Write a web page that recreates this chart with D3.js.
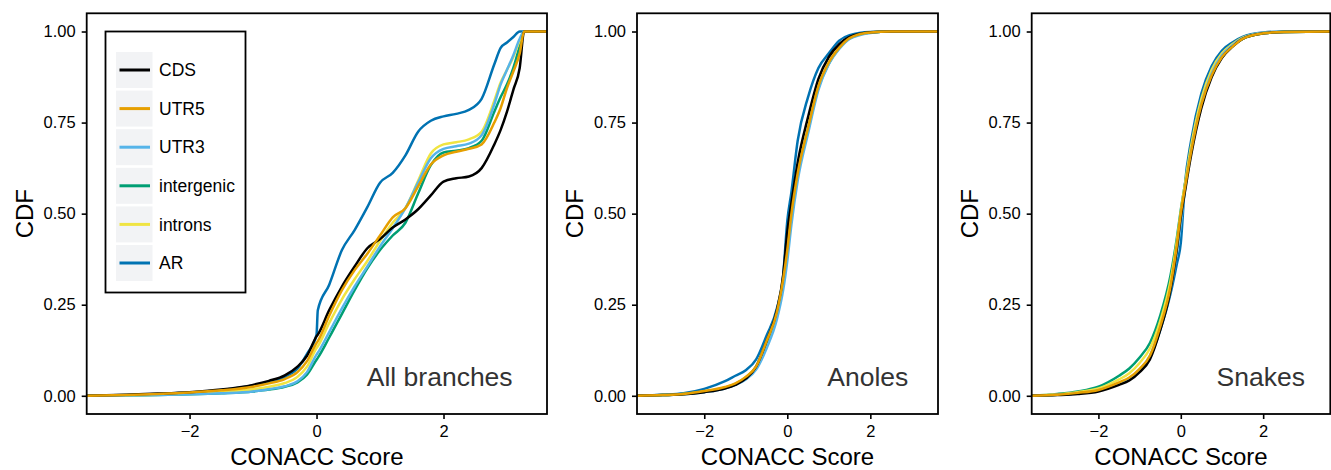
<!DOCTYPE html>
<html>
<head>
<meta charset="utf-8">
<script src="https://cdn.jsdelivr.net/npm/d3@7"></script>
<style>
body { margin: 0; background: #fff; }
text { font-family: "Liberation Sans", Arial, Helvetica, sans-serif; }
</style>
</head>
<body>
<svg id="chart" width="1331" height="470"></svg>
<script>
// series (legend order) and colours
var seriesNames = ["CDS", "UTR5", "UTR3", "intergenic", "introns", "AR"];
var seriesColors = ["#000000", "#E69F00", "#56B4E9", "#009E73", "#F0E442", "#0072B2"];
var drawOrder = ["AR", "intergenic", "introns", "UTR3", "CDS", "UTR5"];

var panelNames = ["All branches", "Anoles", "Snakes"];
var xTicks = [-2, 0, 2];
var yTicks = [0, 0.25, 0.5, 0.75, 1];

// All branches: CONACC score grid and CDF values
var xAll = [-3.62, -3, -2.5, -2, -1.5, -1, -0.75, -0.5, -0.3, -0.15, 0, 0.02, 0.2, 0.4, 0.6, 0.8,
            1.0, 1.2, 1.4, 1.6, 1.8, 2.0, 2.2, 2.4, 2.6, 2.8, 2.9, 3.0, 3.1, 3.2, 3.27, 3.63];
var allCDS        = [0, 0.003, 0.006, 0.01, 0.017, 0.03, 0.041, 0.056, 0.08, 0.11, 0.163, 0.168, 0.235, 0.30, 0.355, 0.405,
                     0.43, 0.462, 0.484, 0.512, 0.55, 0.588, 0.597, 0.602, 0.625, 0.69, 0.73, 0.78, 0.84, 0.9, 1, 1];
var allUTR5       = [0, 0.002, 0.005, 0.009, 0.015, 0.025, 0.034, 0.046, 0.065, 0.095, 0.145, 0.15, 0.22, 0.29, 0.345, 0.39,
                     0.44, 0.49, 0.515, 0.575, 0.635, 0.66, 0.67, 0.678, 0.69, 0.75, 0.79, 0.845, 0.89, 0.94, 1, 1];
var allUTR3       = [0, 0.001, 0.002, 0.004, 0.007, 0.012, 0.018, 0.026, 0.04, 0.065, 0.113, 0.118, 0.175, 0.24, 0.30, 0.355,
                     0.41, 0.46, 0.515, 0.585, 0.652, 0.678, 0.685, 0.692, 0.715, 0.8, 0.855, 0.895, 0.935, 0.98, 1, 1];
var allIntergenic = [0, 0.001, 0.002, 0.004, 0.007, 0.012, 0.017, 0.025, 0.037, 0.058, 0.099, 0.104, 0.16, 0.225, 0.29, 0.35,
                     0.40, 0.44, 0.475, 0.555, 0.633, 0.668, 0.673, 0.68, 0.70, 0.78, 0.82, 0.855, 0.9, 0.96, 1, 1];
var allIntrons    = [0, 0.001, 0.003, 0.006, 0.01, 0.018, 0.025, 0.035, 0.052, 0.08, 0.131, 0.136, 0.2, 0.265, 0.32, 0.37,
                     0.425, 0.475, 0.515, 0.59, 0.665, 0.69, 0.696, 0.704, 0.725, 0.81, 0.86, 0.895, 0.93, 0.975, 1, 1];
var allAR         = [0, 0.002, 0.005, 0.009, 0.016, 0.028, 0.038, 0.052, 0.075, 0.115, 0.168, 0.235, 0.305, 0.40, 0.455, 0.518,
                     0.585, 0.612, 0.66, 0.725, 0.755, 0.767, 0.774, 0.785, 0.815, 0.91, 0.955, 0.97, 0.985, 1, 1, 1];

// Anoles and Snakes share one grid
var xSp = [-3.62, -3, -2.5, -2, -1.5, -1.25, -1, -0.75, -0.5, -0.25, -0.1, 0, 0.1, 0.25, 0.5, 0.75, 1.0, 1.25, 1.5, 2.0, 2.5, 3.63];
var anoCDS        = [0, 0.002, 0.004, 0.01, 0.02, 0.03, 0.047, 0.08, 0.15, 0.235, 0.33, 0.45, 0.53, 0.64, 0.765, 0.87, 0.93, 0.965, 0.985, 0.998, 1, 1];
var anoUTR5       = [0, 0.002, 0.005, 0.013, 0.024, 0.034, 0.052, 0.081, 0.15, 0.23, 0.32, 0.4, 0.5, 0.61, 0.735, 0.85, 0.915, 0.955, 0.982, 0.997, 1, 1];
var anoUTR3       = [0, 0.002, 0.004, 0.01, 0.02, 0.03, 0.045, 0.072, 0.13, 0.21, 0.29, 0.37, 0.47, 0.59, 0.72, 0.84, 0.91, 0.952, 0.98, 0.996, 1, 1];
var anoIntergenic = [0, 0.002, 0.005, 0.012, 0.022, 0.032, 0.05, 0.078, 0.145, 0.225, 0.315, 0.395, 0.49, 0.605, 0.73, 0.845, 0.912, 0.954, 0.981, 0.997, 1, 1];
var anoIntrons    = [0, 0.002, 0.005, 0.012, 0.023, 0.033, 0.051, 0.08, 0.148, 0.228, 0.318, 0.398, 0.495, 0.608, 0.733, 0.848, 0.914, 0.955, 0.982, 0.997, 1, 1];
var anoAR         = [0, 0.003, 0.007, 0.019, 0.04, 0.055, 0.07, 0.1, 0.165, 0.24, 0.33, 0.48, 0.56, 0.70, 0.82, 0.9, 0.94, 0.975, 0.99, 0.999, 1, 1];

var snkCDS        = [0, 0.002, 0.005, 0.012, 0.03, 0.042, 0.065, 0.1, 0.18, 0.29, 0.4, 0.49, 0.56, 0.66, 0.79, 0.875, 0.928, 0.958, 0.98, 0.995, 0.999, 1];
var snkUTR5       = [0, 0.003, 0.008, 0.016, 0.037, 0.05, 0.074, 0.11, 0.19, 0.3, 0.41, 0.5, 0.57, 0.67, 0.8, 0.88, 0.93, 0.958, 0.98, 0.995, 0.999, 1];
var snkUTR3       = [0, 0.003, 0.007, 0.015, 0.034, 0.048, 0.072, 0.11, 0.185, 0.29, 0.39, 0.47, 0.565, 0.67, 0.8, 0.885, 0.935, 0.962, 0.982, 0.996, 0.999, 1];
var snkIntergenic = [0, 0.005, 0.012, 0.025, 0.055, 0.075, 0.105, 0.145, 0.22, 0.33, 0.43, 0.51, 0.58, 0.68, 0.805, 0.885, 0.932, 0.96, 0.98, 0.995, 0.999, 1];
var snkIntrons    = [0, 0.004, 0.01, 0.02, 0.045, 0.062, 0.09, 0.13, 0.205, 0.315, 0.42, 0.505, 0.58, 0.685, 0.815, 0.895, 0.94, 0.965, 0.983, 0.996, 0.999, 1];
var snkAR         = [0, 0.003, 0.007, 0.015, 0.033, 0.047, 0.07, 0.105, 0.18, 0.28, 0.36, 0.42, 0.58, 0.7, 0.83, 0.905, 0.948, 0.97, 0.985, 0.997, 1, 1];

var panelData = [
  { x: xAll, y: { CDS: allCDS, UTR5: allUTR5, UTR3: allUTR3, intergenic: allIntergenic, introns: allIntrons, AR: allAR } },
  { x: xSp,  y: { CDS: anoCDS, UTR5: anoUTR5, UTR3: anoUTR3, intergenic: anoIntergenic, introns: anoIntrons, AR: anoAR } },
  { x: xSp,  y: { CDS: snkCDS, UTR5: snkUTR5, UTR3: snkUTR3, intergenic: snkIntergenic, introns: snkIntrons, AR: snkAR } }
];

// layout
var panelLeft  = [86.7, 637, 1031.7];
var panelRight = [547, 938, 1330.3];
var plotTop = 13.3, plotBottom = 414;

var color = d3.scaleOrdinal().domain(seriesNames).range(seriesColors);
var svg = d3.select("#chart");

panelNames.forEach(function(name, p) {
  var x = d3.scaleLinear().domain([-3.62, 3.63]).range([panelLeft[p], panelRight[p]]);
  var y = d3.scaleLinear().domain([-0.05, 1.05]).range([plotBottom, plotTop]);
  var g = svg.append("g");

  g.append("clipPath").attr("id", "clip" + p)
    .append("rect")
    .attr("x", panelLeft[p]).attr("y", plotTop)
    .attr("width", panelRight[p] - panelLeft[p]).attr("height", plotBottom - plotTop);

  var line = d3.line()
    .x(function(d) { return x(d[0]); })
    .y(function(d) { return y(d[1]); })
    .curve(d3.curveMonotoneX);

  var pd = panelData[p];
  g.append("g").attr("clip-path", "url(#clip" + p + ")")
    .selectAll("path")
    .data(drawOrder)
    .enter()
    .append("path")
    .attr("d", function(s) { return line(d3.zip(pd.x, pd.y[s])); })
    .attr("fill", "none")
    .attr("stroke", function(s) { return color(s); })
    .attr("stroke-width", 2.5)
    .attr("stroke-linejoin", "round");

  // axes
  var ax = g.append("g").attr("transform", "translate(0," + plotBottom + ")")
    .call(d3.axisBottom(x).tickValues(xTicks).tickSize(5).tickPadding(6).tickFormat(d3.format("d")));
  var ay = g.append("g").attr("transform", "translate(" + panelLeft[p] + ",0)")
    .call(d3.axisLeft(y).tickValues(yTicks).tickSize(5).tickPadding(6).tickFormat(d3.format(".2f")));
  [ax, ay].forEach(function(a) {
    a.attr("font-size", 16.5).attr("font-family", null);
    a.select(".domain").remove();
    a.selectAll(".tick line").attr("stroke", "#000").attr("stroke-width", 1.6);
    a.selectAll(".tick text").attr("fill", "#000");
  });

  // panel border
  g.append("rect")
    .attr("x", panelLeft[p]).attr("y", plotTop)
    .attr("width", panelRight[p] - panelLeft[p]).attr("height", plotBottom - plotTop)
    .attr("fill", "none").attr("stroke", "#000").attr("stroke-width", 1.8);

  // axis titles
  g.append("text")
    .attr("x", (panelLeft[p] + panelRight[p]) / 2).attr("y", 465)
    .attr("text-anchor", "middle")
    .style("font-size", "24px")
    .text("CONACC Score");
  g.append("text")
    .attr("transform", "translate(" + (panelLeft[p] - 54) + "," + ((plotTop + plotBottom) / 2) + ") rotate(-90)")
    .attr("text-anchor", "middle")
    .style("font-size", "24px")
    .text("CDF");

  // panel label
  g.append("text")
    .attr("x", x(1.94)).attr("y", 386)
    .attr("text-anchor", "middle")
    .attr("fill", "#333")
    .style("font-size", "26.5px")
    .text(name);
});

// legend (first panel only)
var legend = svg.append("g");
legend.append("rect")
  .attr("x", 105.5).attr("y", 31.5).attr("width", 140).attr("height", 261)
  .attr("fill", "#fff").attr("stroke", "#000").attr("stroke-width", 1.8);

var keys = legend.selectAll("g.key")
  .data(seriesNames)
  .enter()
  .append("g")
  .attr("class", "key")
  .attr("transform", function(d, i) { return "translate(0," + (70 + i * 38.6) + ")"; });
keys.append("rect")
  .attr("x", 116).attr("y", -18).attr("width", 36.5).attr("height", 36)
  .attr("fill", "#f2f3f5");
keys.append("line")
  .attr("x1", 119.5).attr("x2", 150).attr("y1", 0).attr("y2", 0)
  .attr("stroke", function(d) { return color(d); })
  .attr("stroke-width", 3);
keys.append("text")
  .attr("x", 159).attr("y", 0).attr("dy", "0.35em")
  .style("font-size", "17.5px")
  .text(function(d) { return d; });
</script>
</body>
</html>
